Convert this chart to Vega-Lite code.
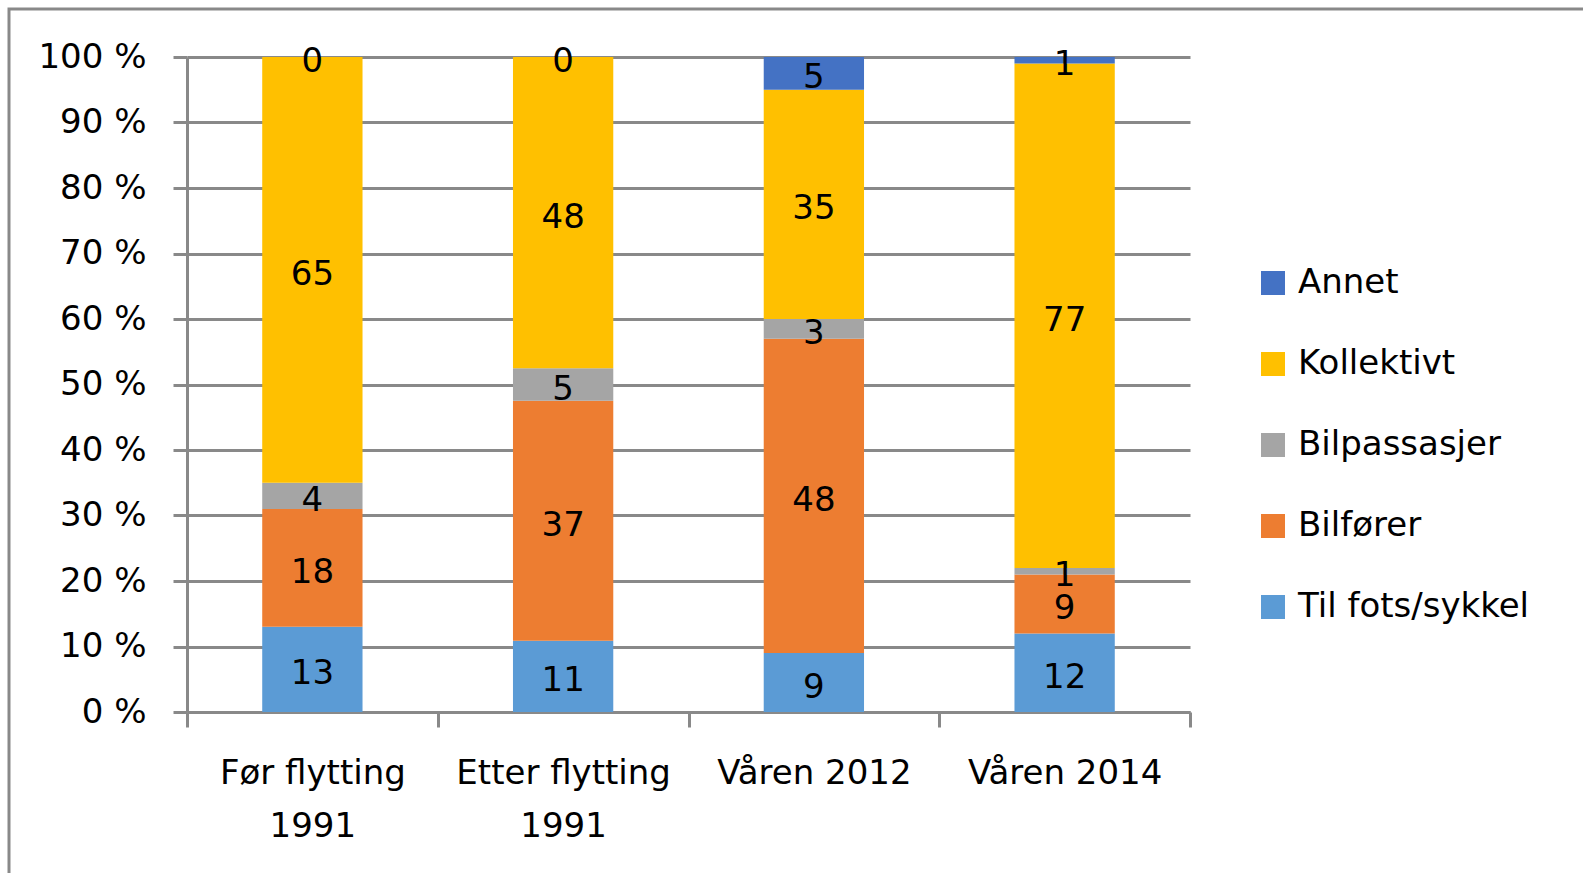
{
  "$schema": "https://vega.github.io/schema/vega-lite/v6.json",
  "autosize": {"type": "none"},
  "padding": {"left": 9, "top": 9, "right": -10, "bottom": -10},
  "width": 1584,
  "height": 874,
  "background": "white",
  "config": {
    "view": {"stroke": "#898989", "strokeWidth": 3},
    "font": "DejaVu Sans",
    "axis": {"labelFont": "DejaVu Sans", "labelFontSize": 34, "labelColor": "#000000", "labelLimit": 0, "domainColor": "#898989", "domainWidth": 3, "tickColor": "#898989", "tickWidth": 3, "gridColor": "#898989", "gridWidth": 3, "title": null}
  },
  "data": {"values": [
    {"period": "Før flytting 1991", "mode": "Til fots/sykkel", "rank": 1, "value": 13},
    {"period": "Før flytting 1991", "mode": "Bilfører", "rank": 2, "value": 18},
    {"period": "Før flytting 1991", "mode": "Bilpassasjer", "rank": 3, "value": 4},
    {"period": "Før flytting 1991", "mode": "Kollektivt", "rank": 4, "value": 65},
    {"period": "Før flytting 1991", "mode": "Annet", "rank": 5, "value": 0},
    {"period": "Etter flytting 1991", "mode": "Til fots/sykkel", "rank": 1, "value": 11},
    {"period": "Etter flytting 1991", "mode": "Bilfører", "rank": 2, "value": 37},
    {"period": "Etter flytting 1991", "mode": "Bilpassasjer", "rank": 3, "value": 5},
    {"period": "Etter flytting 1991", "mode": "Kollektivt", "rank": 4, "value": 48},
    {"period": "Etter flytting 1991", "mode": "Annet", "rank": 5, "value": 0},
    {"period": "Våren 2012", "mode": "Til fots/sykkel", "rank": 1, "value": 9},
    {"period": "Våren 2012", "mode": "Bilfører", "rank": 2, "value": 48},
    {"period": "Våren 2012", "mode": "Bilpassasjer", "rank": 3, "value": 3},
    {"period": "Våren 2012", "mode": "Kollektivt", "rank": 4, "value": 35},
    {"period": "Våren 2012", "mode": "Annet", "rank": 5, "value": 5},
    {"period": "Våren 2014", "mode": "Til fots/sykkel", "rank": 1, "value": 12},
    {"period": "Våren 2014", "mode": "Bilfører", "rank": 2, "value": 9},
    {"period": "Våren 2014", "mode": "Bilpassasjer", "rank": 3, "value": 1},
    {"period": "Våren 2014", "mode": "Kollektivt", "rank": 4, "value": 77},
    {"period": "Våren 2014", "mode": "Annet", "rank": 5, "value": 1}
  ]},
  "encoding": {
    "x": {
      "field": "period", "type": "nominal", "sort": null,
      "scale": {"paddingInner": 0, "paddingOuter": 0, "range": [178, 1181]},
      "axis": {"labelAngle": 0, "tickBand": "extent", "tickSize": 15, "labelPadding": 29, "labelLineHeight": 53, "offset": -171,
        "labelExpr": "indexof(datum.label, 'flytting') >= 0 ? [slice(datum.label, 0, -5), slice(datum.label, -4)] : datum.label"}
    },
    "y": {
      "field": "value", "type": "quantitative", "stack": "normalize",
      "scale": {"domain": [0, 1], "nice": false, "range": [703, 48]},
      "axis": {"values": [0, 0.1, 0.2, 0.3, 0.4, 0.5, 0.6, 0.7, 0.8, 0.9, 1], "labelExpr": "round(datum.value * 100) + ' %'", "tickSize": 14, "labelPadding": 27, "grid": true, "domain": true, "offset": -178}
    },
    "order": {"field": "rank", "type": "quantitative"}
  },
  "layer": [
    {
      "mark": {"type": "bar", "strokeWidth": 0, "width": {"band": 0.4}},
      "encoding": {
        "color": {
          "field": "mode", "type": "nominal",
          "scale": {"domain": ["Annet", "Kollektivt", "Bilpassasjer", "Bilfører", "Til fots/sykkel"], "range": ["#4472C4", "#FFC000", "#A5A5A5", "#ED7D31", "#5B9BD5"]},
          "legend": {"orient": "none", "legendX": 1247, "legendY": 257, "title": null, "symbolType": "square", "symbolSize": 576, "symbolStrokeWidth": 0, "labelFontSize": 34, "labelFont": "DejaVu Sans", "labelColor": "#000000", "labelLimit": 0, "rowPadding": 47, "labelOffset": 8}
        }
      }
    },
    {
      "mark": {"type": "text", "fontSize": 34, "color": "#000000", "baseline": "middle", "align": "center", "dy": 5},
      "encoding": {
        "y": {"field": "value", "type": "quantitative", "stack": "normalize", "bandPosition": 0.5},
        "detail": {"field": "mode"},
        "text": {"field": "value", "type": "quantitative"}
      }
    }
  ]
}
